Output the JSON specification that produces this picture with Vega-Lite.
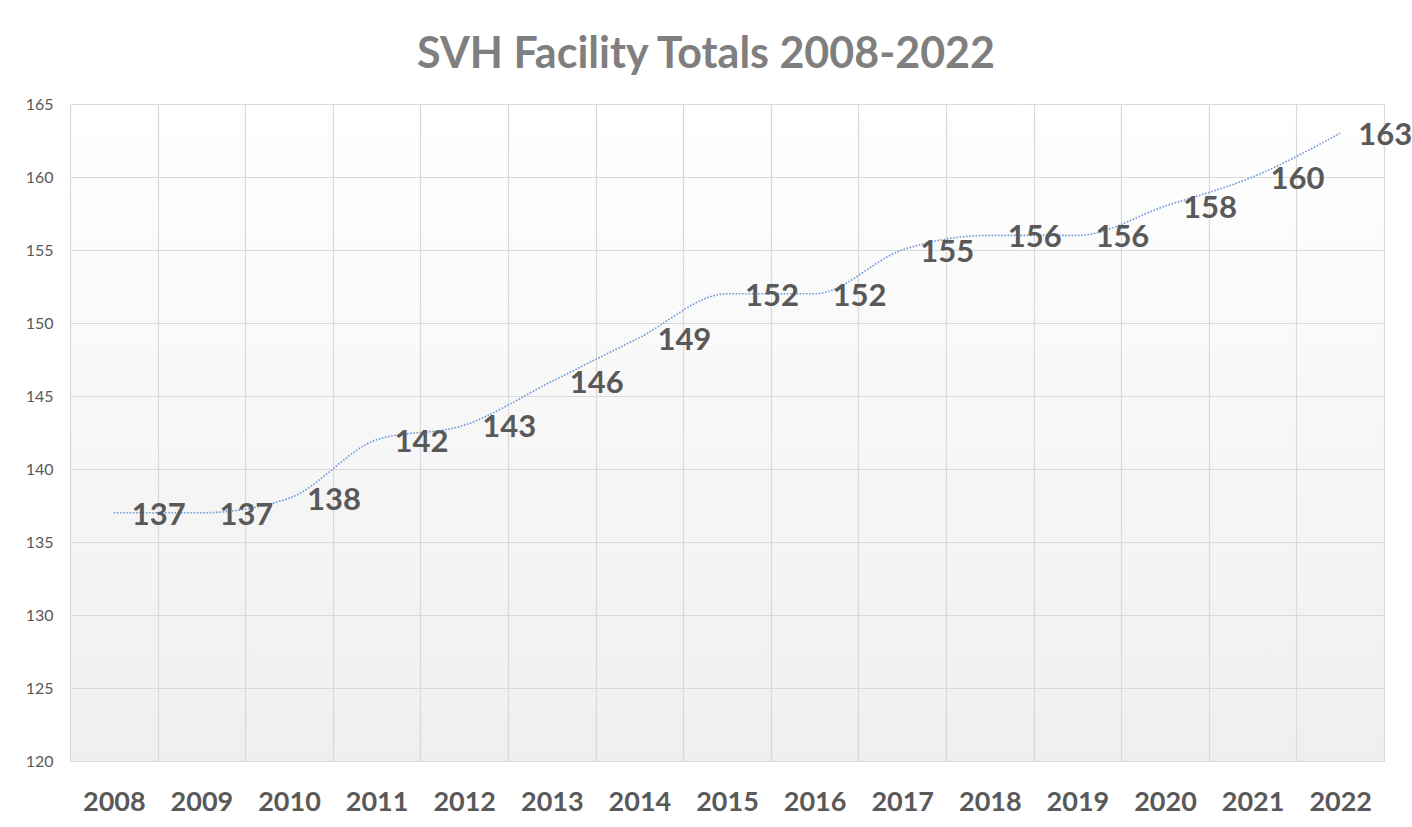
{
  "$schema": "https://vega.github.io/schema/vega-lite/v6.json",
  "width": 1314,
  "height": 657,
  "autosize": {"type": "none"},
  "padding": {"left": 70, "top": 104, "right": 28, "bottom": 66},
  "background": "white",
  "title": {
    "text": "SVH Facility Totals 2008-2022",
    "font": "Lato",
    "fontSize": 43,
    "fontWeight": "bold",
    "color": "#7f7f7f",
    "anchor": "middle",
    "dx": -21,
    "dy": 52,
    "offset": 37,
    "baseline": "alphabetic"
  },
  "data": {
    "values": [
      {"year": "2008", "total": 137},
      {"year": "2009", "total": 137},
      {"year": "2010", "total": 138},
      {"year": "2011", "total": 142},
      {"year": "2012", "total": 143},
      {"year": "2013", "total": 146},
      {"year": "2014", "total": 149},
      {"year": "2015", "total": 152},
      {"year": "2016", "total": 152},
      {"year": "2017", "total": 155},
      {"year": "2018", "total": 156},
      {"year": "2019", "total": 156},
      {"year": "2020", "total": 158},
      {"year": "2021", "total": 160},
      {"year": "2022", "total": 163}
    ]
  },
  "encoding": {
    "x": {
      "field": "year",
      "type": "ordinal",
      "scale": {"type": "band", "paddingInner": 0, "paddingOuter": 0},
      "axis": {
        "title": null,
        "tickBand": "extent",
        "grid": true,
        "gridColor": "#d9d9d9",
        "gridWidth": 1.2,
        "domain": false,
        "ticks": false,
        "tickSize": 0,
        "labelAngle": 0,
        "labelFont": "Lato",
        "labelFontSize": 27,
        "labelFontWeight": "bold",
        "labelColor": "#595959",
        "labelBaseline": "middle",
        "labelPadding": 41
      }
    },
    "y": {
      "field": "total",
      "type": "quantitative",
      "scale": {"domain": [120, 165], "zero": false, "nice": false},
      "axis": {
        "title": null,
        "values": [120, 125, 130, 135, 140, 145, 150, 155, 160, 165],
        "grid": true,
        "gridColor": "#d9d9d9",
        "gridWidth": 1.2,
        "domain": false,
        "ticks": false,
        "tickSize": 0,
        "labelFont": "Lato",
        "labelFontSize": 16,
        "labelColor": "#595959",
        "labelPadding": 17
      }
    }
  },
  "layer": [
    {
      "mark": {
        "type": "line",
        "interpolate": "monotone",
        "color": "#6d98d6",
        "strokeWidth": 1.6,
        "strokeDash": [1.6, 1.6]
      }
    },
    {
      "mark": {
        "type": "text",
        "align": "left",
        "baseline": "middle",
        "dx": 18,
        "dy": 3,
        "font": "Lato",
        "fontSize": 31,
        "fontWeight": "bold",
        "color": "#595959"
      },
      "encoding": {"text": {"field": "total", "type": "quantitative"}}
    }
  ],
  "config": {
    "view": {
      "stroke": null,
      "fill": {
        "gradient": "linear",
        "x1": 0, "y1": 0, "x2": 0, "y2": 1,
        "stops": [
          {"offset": 0, "color": "#ffffff"},
          {"offset": 1, "color": "#efefef"}
        ]
      }
    }
  }
}
